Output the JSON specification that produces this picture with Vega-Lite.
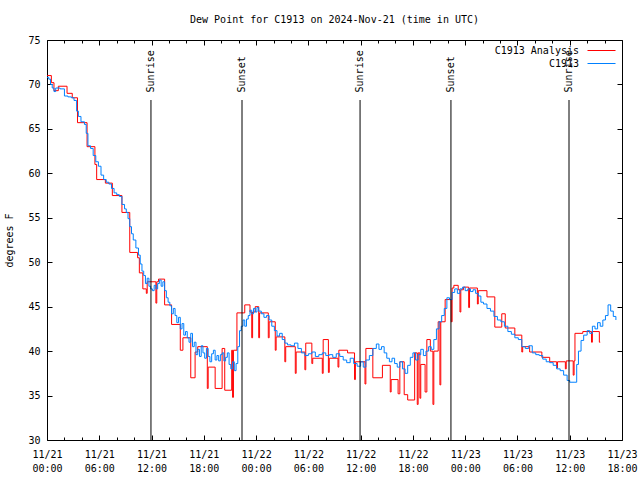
{
  "$schema": "https://vega.github.io/schema/vega-lite/v6.json",
  "width": 575,
  "height": 400,
  "autosize": {"type": "none"},
  "padding": {"left": 47, "top": 40, "right": 18, "bottom": 40},
  "background": "white",
  "title": {"text": "Dew Point for C1913 on 2024-Nov-21 (time in UTC)", "font": "DejaVu Sans Mono", "fontSize": 10, "fontWeight": "normal", "color": "black", "offset": 10},
  "config": {
    "view": {"stroke": "black", "strokeWidth": 1},
    "font": "DejaVu Sans Mono",
    "axis": {"domain": false, "grid": false, "tickColor": "black", "tickWidth": 1, "labelFont": "DejaVu Sans Mono", "labelFontSize": 10, "labelColor": "black", "titleFont": "DejaVu Sans Mono", "titleFontSize": 10, "titleFontWeight": "normal", "titleColor": "black"},
    "legend": {"orient": "top-right", "offset": 4, "padding": 0, "rowPadding": 1, "title": null, "labelFont": "DejaVu Sans Mono", "labelFontSize": 10, "labelColor": "black", "symbolType": "M-1,0H3.67", "symbolStrokeWidth": 1, "symbolSize": 144, "labelAlign": "right", "labelOffset": -21}
  },
  "datasets": {
    "analysis": [
      {"t": "2024-11-21T00:00:00Z", "v": 71.0}, {"t": "2024-11-21T00:30:00Z", "v": 70.2}, {"t": "2024-11-21T00:48:00Z", "v": 69.3}, {"t": "2024-11-21T01:18:00Z", "v": 69.8},
      {"t": "2024-11-21T02:18:00Z", "v": 69.0}, {"t": "2024-11-21T02:54:00Z", "v": 68.5}, {"t": "2024-11-21T03:30:00Z", "v": 65.7}, {"t": "2024-11-21T04:36:00Z", "v": 63.0},
      {"t": "2024-11-21T05:30:00Z", "v": 61.0}, {"t": "2024-11-21T05:42:00Z", "v": 59.3}, {"t": "2024-11-21T06:42:00Z", "v": 58.9}, {"t": "2024-11-21T07:30:00Z", "v": 57.5},
      {"t": "2024-11-21T08:36:00Z", "v": 55.6}, {"t": "2024-11-21T09:30:00Z", "v": 51.1}, {"t": "2024-11-21T10:24:00Z", "v": 50.5}, {"t": "2024-11-21T10:36:00Z", "v": 48.8},
      {"t": "2024-11-21T11:00:00Z", "v": 47.0}, {"t": "2024-11-21T11:24:00Z", "v": 46.5}, {"t": "2024-11-21T11:30:00Z", "v": 47.8}, {"t": "2024-11-21T12:30:00Z", "v": 45.4},
      {"t": "2024-11-21T12:36:00Z", "v": 47.8}, {"t": "2024-11-21T12:48:00Z", "v": 48.1}, {"t": "2024-11-21T13:30:00Z", "v": 45.2}, {"t": "2024-11-21T14:18:00Z", "v": 43.0},
      {"t": "2024-11-21T15:18:00Z", "v": 40.1}, {"t": "2024-11-21T15:36:00Z", "v": 41.5}, {"t": "2024-11-21T16:30:00Z", "v": 37.0}, {"t": "2024-11-21T17:00:00Z", "v": 39.9},
      {"t": "2024-11-21T17:18:00Z", "v": 40.5}, {"t": "2024-11-21T18:24:00Z", "v": 35.8}, {"t": "2024-11-21T18:30:00Z", "v": 38.2}, {"t": "2024-11-21T19:18:00Z", "v": 35.8},
      {"t": "2024-11-21T20:06:00Z", "v": 40.3}, {"t": "2024-11-21T20:24:00Z", "v": 35.6}, {"t": "2024-11-21T21:12:00Z", "v": 40.1}, {"t": "2024-11-21T21:18:00Z", "v": 34.8},
      {"t": "2024-11-21T21:24:00Z", "v": 40.1}, {"t": "2024-11-21T21:48:00Z", "v": 44.3}, {"t": "2024-11-21T22:42:00Z", "v": 45.2}, {"t": "2024-11-21T23:18:00Z", "v": 44.4},
      {"t": "2024-11-21T23:30:00Z", "v": 41.5}, {"t": "2024-11-21T23:36:00Z", "v": 44.4}, {"t": "2024-11-21T23:54:00Z", "v": 45.0}, {"t": "2024-11-22T00:18:00Z", "v": 41.5},
      {"t": "2024-11-22T00:24:00Z", "v": 44.3}, {"t": "2024-11-22T01:24:00Z", "v": 41.5}, {"t": "2024-11-22T01:30:00Z", "v": 43.3}, {"t": "2024-11-22T02:12:00Z", "v": 40.1},
      {"t": "2024-11-22T02:18:00Z", "v": 41.6}, {"t": "2024-11-22T03:18:00Z", "v": 38.8}, {"t": "2024-11-22T03:24:00Z", "v": 40.5}, {"t": "2024-11-22T04:30:00Z", "v": 37.5},
      {"t": "2024-11-22T04:36:00Z", "v": 39.9}, {"t": "2024-11-22T05:36:00Z", "v": 37.9}, {"t": "2024-11-22T05:42:00Z", "v": 40.9}, {"t": "2024-11-22T06:24:00Z", "v": 38.6},
      {"t": "2024-11-22T06:30:00Z", "v": 39.2}, {"t": "2024-11-22T07:36:00Z", "v": 37.5}, {"t": "2024-11-22T07:42:00Z", "v": 41.3}, {"t": "2024-11-22T08:18:00Z", "v": 37.6},
      {"t": "2024-11-22T08:24:00Z", "v": 39.2}, {"t": "2024-11-22T09:24:00Z", "v": 38.2}, {"t": "2024-11-22T09:30:00Z", "v": 40.1}, {"t": "2024-11-22T10:30:00Z", "v": 39.8},
      {"t": "2024-11-22T11:18:00Z", "v": 36.8}, {"t": "2024-11-22T11:24:00Z", "v": 38.8}, {"t": "2024-11-22T12:30:00Z", "v": 36.3}, {"t": "2024-11-22T12:36:00Z", "v": 40.3},
      {"t": "2024-11-22T13:24:00Z", "v": 37.0}, {"t": "2024-11-22T14:30:00Z", "v": 38.4}, {"t": "2024-11-22T15:24:00Z", "v": 35.4}, {"t": "2024-11-22T15:30:00Z", "v": 36.8},
      {"t": "2024-11-22T16:18:00Z", "v": 35.2}, {"t": "2024-11-22T16:30:00Z", "v": 38.8}, {"t": "2024-11-22T17:00:00Z", "v": 35.1}, {"t": "2024-11-22T17:24:00Z", "v": 34.5},
      {"t": "2024-11-22T18:12:00Z", "v": 39.8}, {"t": "2024-11-22T18:30:00Z", "v": 34.0}, {"t": "2024-11-22T18:36:00Z", "v": 39.8}, {"t": "2024-11-22T18:48:00Z", "v": 34.7},
      {"t": "2024-11-22T18:54:00Z", "v": 38.5}, {"t": "2024-11-22T19:24:00Z", "v": 35.4}, {"t": "2024-11-22T19:36:00Z", "v": 41.3}, {"t": "2024-11-22T20:00:00Z", "v": 40.0},
      {"t": "2024-11-22T20:18:00Z", "v": 34.0}, {"t": "2024-11-22T20:24:00Z", "v": 40.0}, {"t": "2024-11-22T20:54:00Z", "v": 43.3}, {"t": "2024-11-22T21:06:00Z", "v": 36.2},
      {"t": "2024-11-22T21:12:00Z", "v": 43.3}, {"t": "2024-11-22T21:42:00Z", "v": 45.8}, {"t": "2024-11-22T22:24:00Z", "v": 43.3}, {"t": "2024-11-22T22:30:00Z", "v": 47.1},
      {"t": "2024-11-22T22:42:00Z", "v": 47.4}, {"t": "2024-11-22T23:12:00Z", "v": 46.9}, {"t": "2024-11-22T23:24:00Z", "v": 44.4}, {"t": "2024-11-22T23:30:00Z", "v": 46.9},
      {"t": "2024-11-22T23:48:00Z", "v": 47.2}, {"t": "2024-11-23T00:24:00Z", "v": 44.9}, {"t": "2024-11-23T00:30:00Z", "v": 47.1}, {"t": "2024-11-23T01:24:00Z", "v": 45.3},
      {"t": "2024-11-23T01:30:00Z", "v": 46.8}, {"t": "2024-11-23T02:30:00Z", "v": 46.1}, {"t": "2024-11-23T03:24:00Z", "v": 42.7}, {"t": "2024-11-23T04:12:00Z", "v": 44.2},
      {"t": "2024-11-23T04:36:00Z", "v": 42.6}, {"t": "2024-11-23T05:42:00Z", "v": 41.8}, {"t": "2024-11-23T06:30:00Z", "v": 39.9}, {"t": "2024-11-23T06:36:00Z", "v": 40.5},
      {"t": "2024-11-23T07:24:00Z", "v": 39.9}, {"t": "2024-11-23T08:48:00Z", "v": 39.3}, {"t": "2024-11-23T09:42:00Z", "v": 38.8}, {"t": "2024-11-23T10:30:00Z", "v": 38.1},
      {"t": "2024-11-23T10:36:00Z", "v": 38.8}, {"t": "2024-11-23T11:30:00Z", "v": 38.0}, {"t": "2024-11-23T11:36:00Z", "v": 38.9}, {"t": "2024-11-23T12:24:00Z", "v": 37.3},
      {"t": "2024-11-23T12:30:00Z", "v": 38.9}, {"t": "2024-11-23T12:36:00Z", "v": 42.0}, {"t": "2024-11-23T13:30:00Z", "v": 42.2}, {"t": "2024-11-23T14:30:00Z", "v": 41.0},
      {"t": "2024-11-23T14:36:00Z", "v": 42.2}, {"t": "2024-11-23T15:24:00Z", "v": 41.0}, {"t": "2024-11-23T15:30:00Z", "v": 41.0}
    ],
    "obs": [
      {"t": "2024-11-21T00:00:00Z", "v": 70.8}, {"t": "2024-11-21T00:12:00Z", "v": 70.6}, {"t": "2024-11-21T00:24:00Z", "v": 70.0}, {"t": "2024-11-21T00:36:00Z", "v": 69.6},
      {"t": "2024-11-21T00:48:00Z", "v": 69.2}, {"t": "2024-11-21T01:00:00Z", "v": 69.6}, {"t": "2024-11-21T01:30:00Z", "v": 69.5}, {"t": "2024-11-21T02:00:00Z", "v": 68.7},
      {"t": "2024-11-21T02:24:00Z", "v": 68.6}, {"t": "2024-11-21T02:48:00Z", "v": 68.5}, {"t": "2024-11-21T03:06:00Z", "v": 68.2}, {"t": "2024-11-21T03:24:00Z", "v": 67.0},
      {"t": "2024-11-21T03:36:00Z", "v": 66.4}, {"t": "2024-11-21T03:54:00Z", "v": 65.8}, {"t": "2024-11-21T04:18:00Z", "v": 65.5}, {"t": "2024-11-21T04:30:00Z", "v": 64.5},
      {"t": "2024-11-21T04:42:00Z", "v": 63.1}, {"t": "2024-11-21T05:00:00Z", "v": 62.8}, {"t": "2024-11-21T05:18:00Z", "v": 62.0}, {"t": "2024-11-21T05:36:00Z", "v": 61.3},
      {"t": "2024-11-21T05:54:00Z", "v": 60.8}, {"t": "2024-11-21T06:12:00Z", "v": 59.8}, {"t": "2024-11-21T06:30:00Z", "v": 59.3}, {"t": "2024-11-21T06:48:00Z", "v": 59.0},
      {"t": "2024-11-21T07:06:00Z", "v": 58.8}, {"t": "2024-11-21T07:24:00Z", "v": 58.3}, {"t": "2024-11-21T07:42:00Z", "v": 57.8}, {"t": "2024-11-21T08:00:00Z", "v": 57.6},
      {"t": "2024-11-21T08:18:00Z", "v": 57.4}, {"t": "2024-11-21T08:36:00Z", "v": 56.5}, {"t": "2024-11-21T08:54:00Z", "v": 56.0}, {"t": "2024-11-21T09:06:00Z", "v": 55.6},
      {"t": "2024-11-21T09:18:00Z", "v": 54.9}, {"t": "2024-11-21T09:30:00Z", "v": 54.0}, {"t": "2024-11-21T09:42:00Z", "v": 53.2}, {"t": "2024-11-21T09:54:00Z", "v": 52.5},
      {"t": "2024-11-21T10:12:00Z", "v": 51.6}, {"t": "2024-11-21T10:30:00Z", "v": 50.8}, {"t": "2024-11-21T10:42:00Z", "v": 49.8}, {"t": "2024-11-21T10:54:00Z", "v": 49.0},
      {"t": "2024-11-21T11:06:00Z", "v": 48.5}, {"t": "2024-11-21T11:18:00Z", "v": 47.6}, {"t": "2024-11-21T11:30:00Z", "v": 48.2}, {"t": "2024-11-21T11:42:00Z", "v": 47.3},
      {"t": "2024-11-21T11:54:00Z", "v": 47.0}, {"t": "2024-11-21T12:06:00Z", "v": 46.8}, {"t": "2024-11-21T12:18:00Z", "v": 47.4}, {"t": "2024-11-21T12:30:00Z", "v": 47.0},
      {"t": "2024-11-21T12:42:00Z", "v": 47.6}, {"t": "2024-11-21T12:54:00Z", "v": 48.0}, {"t": "2024-11-21T13:06:00Z", "v": 47.3}, {"t": "2024-11-21T13:18:00Z", "v": 47.8},
      {"t": "2024-11-21T13:30:00Z", "v": 46.8}, {"t": "2024-11-21T13:42:00Z", "v": 46.0}, {"t": "2024-11-21T13:54:00Z", "v": 45.5}, {"t": "2024-11-21T14:06:00Z", "v": 45.1},
      {"t": "2024-11-21T14:18:00Z", "v": 44.2}, {"t": "2024-11-21T14:30:00Z", "v": 44.8}, {"t": "2024-11-21T14:42:00Z", "v": 44.0}, {"t": "2024-11-21T14:54:00Z", "v": 43.2},
      {"t": "2024-11-21T15:06:00Z", "v": 43.8}, {"t": "2024-11-21T15:18:00Z", "v": 42.5}, {"t": "2024-11-21T15:30:00Z", "v": 43.1}, {"t": "2024-11-21T15:42:00Z", "v": 41.8},
      {"t": "2024-11-21T15:54:00Z", "v": 42.2}, {"t": "2024-11-21T16:06:00Z", "v": 41.5}, {"t": "2024-11-21T16:18:00Z", "v": 41.0}, {"t": "2024-11-21T16:30:00Z", "v": 42.0},
      {"t": "2024-11-21T16:42:00Z", "v": 40.5}, {"t": "2024-11-21T16:54:00Z", "v": 41.0}, {"t": "2024-11-21T17:06:00Z", "v": 39.6}, {"t": "2024-11-21T17:18:00Z", "v": 40.2},
      {"t": "2024-11-21T17:30:00Z", "v": 39.4}, {"t": "2024-11-21T17:42:00Z", "v": 40.6}, {"t": "2024-11-21T17:54:00Z", "v": 39.8}, {"t": "2024-11-21T18:06:00Z", "v": 39.2},
      {"t": "2024-11-21T18:18:00Z", "v": 40.3}, {"t": "2024-11-21T18:30:00Z", "v": 39.4}, {"t": "2024-11-21T18:42:00Z", "v": 38.8}, {"t": "2024-11-21T18:54:00Z", "v": 39.7},
      {"t": "2024-11-21T19:06:00Z", "v": 40.1}, {"t": "2024-11-21T19:18:00Z", "v": 39.0}, {"t": "2024-11-21T19:30:00Z", "v": 39.5}, {"t": "2024-11-21T19:42:00Z", "v": 38.9},
      {"t": "2024-11-21T19:54:00Z", "v": 39.6}, {"t": "2024-11-21T20:06:00Z", "v": 39.8}, {"t": "2024-11-21T20:18:00Z", "v": 38.9}, {"t": "2024-11-21T20:30:00Z", "v": 39.3},
      {"t": "2024-11-21T20:42:00Z", "v": 39.8}, {"t": "2024-11-21T20:54:00Z", "v": 38.5}, {"t": "2024-11-21T21:06:00Z", "v": 38.0}, {"t": "2024-11-21T21:18:00Z", "v": 38.8},
      {"t": "2024-11-21T21:30:00Z", "v": 37.8}, {"t": "2024-11-21T21:42:00Z", "v": 38.6}, {"t": "2024-11-21T21:54:00Z", "v": 40.5}, {"t": "2024-11-21T22:06:00Z", "v": 42.3},
      {"t": "2024-11-21T22:18:00Z", "v": 42.8}, {"t": "2024-11-21T22:30:00Z", "v": 43.5}, {"t": "2024-11-21T22:42:00Z", "v": 42.8}, {"t": "2024-11-21T22:54:00Z", "v": 43.6},
      {"t": "2024-11-21T23:06:00Z", "v": 44.0}, {"t": "2024-11-21T23:18:00Z", "v": 44.6}, {"t": "2024-11-21T23:30:00Z", "v": 44.2}, {"t": "2024-11-21T23:42:00Z", "v": 44.8},
      {"t": "2024-11-21T23:54:00Z", "v": 44.4}, {"t": "2024-11-22T00:06:00Z", "v": 44.9}, {"t": "2024-11-22T00:18:00Z", "v": 44.5}, {"t": "2024-11-22T00:36:00Z", "v": 44.2},
      {"t": "2024-11-22T00:54:00Z", "v": 43.8}, {"t": "2024-11-22T01:12:00Z", "v": 44.0}, {"t": "2024-11-22T01:30:00Z", "v": 43.5}, {"t": "2024-11-22T01:48:00Z", "v": 42.8},
      {"t": "2024-11-22T02:06:00Z", "v": 42.3}, {"t": "2024-11-22T02:24:00Z", "v": 41.7}, {"t": "2024-11-22T02:42:00Z", "v": 42.0}, {"t": "2024-11-22T03:00:00Z", "v": 41.3},
      {"t": "2024-11-22T03:18:00Z", "v": 40.9}, {"t": "2024-11-22T03:36:00Z", "v": 40.7}, {"t": "2024-11-22T04:00:00Z", "v": 40.6}, {"t": "2024-11-22T04:24:00Z", "v": 40.9},
      {"t": "2024-11-22T04:48:00Z", "v": 40.3}, {"t": "2024-11-22T05:12:00Z", "v": 39.8}, {"t": "2024-11-22T05:36:00Z", "v": 39.5}, {"t": "2024-11-22T06:00:00Z", "v": 39.7},
      {"t": "2024-11-22T06:24:00Z", "v": 39.9}, {"t": "2024-11-22T06:48:00Z", "v": 39.4}, {"t": "2024-11-22T07:12:00Z", "v": 39.6}, {"t": "2024-11-22T07:36:00Z", "v": 39.8},
      {"t": "2024-11-22T08:00:00Z", "v": 39.5}, {"t": "2024-11-22T08:24:00Z", "v": 39.6}, {"t": "2024-11-22T08:48:00Z", "v": 39.3}, {"t": "2024-11-22T09:12:00Z", "v": 39.7},
      {"t": "2024-11-22T09:36:00Z", "v": 39.4}, {"t": "2024-11-22T10:00:00Z", "v": 39.0}, {"t": "2024-11-22T10:24:00Z", "v": 38.7}, {"t": "2024-11-22T10:48:00Z", "v": 39.2},
      {"t": "2024-11-22T11:12:00Z", "v": 38.6}, {"t": "2024-11-22T11:36:00Z", "v": 38.3}, {"t": "2024-11-22T12:00:00Z", "v": 38.8}, {"t": "2024-11-22T12:18:00Z", "v": 38.2},
      {"t": "2024-11-22T12:36:00Z", "v": 39.0}, {"t": "2024-11-22T13:00:00Z", "v": 39.5}, {"t": "2024-11-22T13:24:00Z", "v": 40.3}, {"t": "2024-11-22T13:48:00Z", "v": 40.8},
      {"t": "2024-11-22T14:06:00Z", "v": 40.2}, {"t": "2024-11-22T14:24:00Z", "v": 40.5}, {"t": "2024-11-22T14:42:00Z", "v": 39.8}, {"t": "2024-11-22T15:00:00Z", "v": 39.2},
      {"t": "2024-11-22T15:18:00Z", "v": 38.8}, {"t": "2024-11-22T15:36:00Z", "v": 39.2}, {"t": "2024-11-22T15:54:00Z", "v": 38.6}, {"t": "2024-11-22T16:12:00Z", "v": 38.2},
      {"t": "2024-11-22T16:30:00Z", "v": 38.8}, {"t": "2024-11-22T16:48:00Z", "v": 38.0}, {"t": "2024-11-22T17:06:00Z", "v": 37.5}, {"t": "2024-11-22T17:24:00Z", "v": 38.4},
      {"t": "2024-11-22T17:42:00Z", "v": 39.3}, {"t": "2024-11-22T18:00:00Z", "v": 39.8}, {"t": "2024-11-22T18:18:00Z", "v": 39.0}, {"t": "2024-11-22T18:36:00Z", "v": 39.6},
      {"t": "2024-11-22T18:54:00Z", "v": 40.2}, {"t": "2024-11-22T19:12:00Z", "v": 39.5}, {"t": "2024-11-22T19:30:00Z", "v": 40.0}, {"t": "2024-11-22T19:48:00Z", "v": 40.5},
      {"t": "2024-11-22T20:06:00Z", "v": 40.2}, {"t": "2024-11-22T20:24:00Z", "v": 41.3}, {"t": "2024-11-22T20:42:00Z", "v": 42.5}, {"t": "2024-11-22T21:00:00Z", "v": 43.3},
      {"t": "2024-11-22T21:18:00Z", "v": 44.0}, {"t": "2024-11-22T21:36:00Z", "v": 44.8}, {"t": "2024-11-22T21:54:00Z", "v": 46.0}, {"t": "2024-11-22T22:12:00Z", "v": 45.8},
      {"t": "2024-11-22T22:30:00Z", "v": 46.6}, {"t": "2024-11-22T22:48:00Z", "v": 47.0}, {"t": "2024-11-22T23:06:00Z", "v": 46.5}, {"t": "2024-11-22T23:24:00Z", "v": 47.0},
      {"t": "2024-11-22T23:42:00Z", "v": 47.2}, {"t": "2024-11-23T00:00:00Z", "v": 46.8}, {"t": "2024-11-23T00:18:00Z", "v": 47.0}, {"t": "2024-11-23T00:36:00Z", "v": 46.7},
      {"t": "2024-11-23T00:54:00Z", "v": 46.9}, {"t": "2024-11-23T01:12:00Z", "v": 46.5}, {"t": "2024-11-23T01:30:00Z", "v": 46.2}, {"t": "2024-11-23T01:48:00Z", "v": 45.5},
      {"t": "2024-11-23T02:06:00Z", "v": 45.3}, {"t": "2024-11-23T02:30:00Z", "v": 44.8}, {"t": "2024-11-23T02:54:00Z", "v": 44.5}, {"t": "2024-11-23T03:18:00Z", "v": 43.9},
      {"t": "2024-11-23T03:42:00Z", "v": 43.5}, {"t": "2024-11-23T04:06:00Z", "v": 43.3}, {"t": "2024-11-23T04:30:00Z", "v": 42.8}, {"t": "2024-11-23T04:54:00Z", "v": 42.2},
      {"t": "2024-11-23T05:18:00Z", "v": 41.9}, {"t": "2024-11-23T05:42:00Z", "v": 41.5}, {"t": "2024-11-23T06:06:00Z", "v": 41.3}, {"t": "2024-11-23T06:30:00Z", "v": 40.5},
      {"t": "2024-11-23T06:54:00Z", "v": 40.3}, {"t": "2024-11-23T07:18:00Z", "v": 40.6}, {"t": "2024-11-23T07:42:00Z", "v": 39.8}, {"t": "2024-11-23T08:06:00Z", "v": 39.6},
      {"t": "2024-11-23T08:30:00Z", "v": 39.5}, {"t": "2024-11-23T08:54:00Z", "v": 39.1}, {"t": "2024-11-23T09:18:00Z", "v": 38.8}, {"t": "2024-11-23T09:42:00Z", "v": 38.7},
      {"t": "2024-11-23T10:06:00Z", "v": 38.4}, {"t": "2024-11-23T10:30:00Z", "v": 38.0}, {"t": "2024-11-23T10:54:00Z", "v": 37.8}, {"t": "2024-11-23T11:18:00Z", "v": 37.3},
      {"t": "2024-11-23T11:42:00Z", "v": 36.7}, {"t": "2024-11-23T12:00:00Z", "v": 36.5}, {"t": "2024-11-23T12:36:00Z", "v": 36.5}, {"t": "2024-11-23T12:48:00Z", "v": 38.5},
      {"t": "2024-11-23T13:00:00Z", "v": 40.0}, {"t": "2024-11-23T13:18:00Z", "v": 41.2}, {"t": "2024-11-23T13:36:00Z", "v": 41.8}, {"t": "2024-11-23T14:00:00Z", "v": 42.3},
      {"t": "2024-11-23T14:18:00Z", "v": 42.0}, {"t": "2024-11-23T14:36:00Z", "v": 42.8}, {"t": "2024-11-23T14:54:00Z", "v": 42.5}, {"t": "2024-11-23T15:12:00Z", "v": 43.2},
      {"t": "2024-11-23T15:30:00Z", "v": 42.8}, {"t": "2024-11-23T15:48:00Z", "v": 43.5}, {"t": "2024-11-23T16:06:00Z", "v": 44.0}, {"t": "2024-11-23T16:24:00Z", "v": 45.2},
      {"t": "2024-11-23T16:42:00Z", "v": 44.5}, {"t": "2024-11-23T17:00:00Z", "v": 43.9}, {"t": "2024-11-23T17:18:00Z", "v": 43.5}
    ],
    "events": [
      {"t": "2024-11-21T11:56:00Z", "label": "Sunrise"},
      {"t": "2024-11-21T22:23:00Z", "label": "Sunset"},
      {"t": "2024-11-22T11:56:00Z", "label": "Sunrise"},
      {"t": "2024-11-22T22:22:00Z", "label": "Sunset"},
      {"t": "2024-11-23T11:55:00Z", "label": "Sunrise"}
    ]
  },
  "layer": [
    {
      "data": {"name": "analysis"},
      "mark": {"type": "line", "interpolate": "step-after", "strokeWidth": 1},
      "encoding": {
        "x": {"field": "t", "type": "temporal",
              "scale": {"type": "utc", "domain": [{"year": 2024, "month": 11, "date": 21, "hours": 0, "utc": true}, {"year": 2024, "month": 11, "date": 23, "hours": 18, "utc": true}]},
              "axis": {"orient": "bottom", "title": null, "tickCount": 12, "tickSize": -5, "labelPadding": 14, "labelExpr": "utcFormat(datum.value, '%m/%d')", "labelOverlap": false, "labelFlush": false}},
        "y": {"field": "v", "type": "quantitative", "scale": {"domain": [30, 75], "nice": false, "zero": false},
              "axis": {"orient": "left", "title": "degrees F", "values": [30, 35, 40, 45, 50, 55, 60, 65, 70, 75], "tickSize": -5, "labelPadding": 12, "titlePadding": 13}},
        "color": {"datum": "C1913 Analysis", "type": "nominal", "scale": {"domain": ["C1913 Analysis", "C1913"], "range": ["#ff0000", "#0080ff"]}}
      }
    },
    {
      "data": {"name": "obs"},
      "mark": {"type": "line", "interpolate": "step-after", "strokeWidth": 1},
      "encoding": {
        "x": {"field": "t", "type": "temporal", "axis": {"orient": "bottom", "title": null, "tickCount": 12, "tickSize": 0, "labelPadding": 23, "labelExpr": "utcFormat(datum.value, '%H:%M')", "labelOverlap": false, "labelFlush": false}},
        "y": {"field": "v", "type": "quantitative", "axis": {"orient": "right", "title": null, "labels": false, "values": [30, 35, 40, 45, 50, 55, 60, 65, 70, 75], "tickSize": -5}},
        "color": {"datum": "C1913", "type": "nominal"}
      }
    },
    {
      "data": {"name": "events"},
      "mark": {"type": "rule", "color": "black", "strokeWidth": 1},
      "encoding": {
        "x": {"field": "t", "type": "temporal", "axis": {"orient": "top", "title": null, "labels": false, "tickCount": 12, "tickSize": -5}},
        "y": {"datum": 68.25, "type": "quantitative", "axis": null},
        "y2": {"datum": 30}
      }
    },
    {
      "data": {"name": "events"},
      "mark": {"type": "rule", "color": "black", "strokeWidth": 1, "opacity": 0},
      "encoding": {
        "x": {"field": "t", "type": "temporal", "axis": {"orient": "top", "title": null, "labels": false, "tickSize": -3,
              "values": [
                {"year": 2024, "month": 11, "date": 21, "hours": 2, "utc": true}, {"year": 2024, "month": 11, "date": 21, "hours": 4, "utc": true},
                {"year": 2024, "month": 11, "date": 21, "hours": 8, "utc": true}, {"year": 2024, "month": 11, "date": 21, "hours": 10, "utc": true},
                {"year": 2024, "month": 11, "date": 21, "hours": 14, "utc": true}, {"year": 2024, "month": 11, "date": 21, "hours": 16, "utc": true},
                {"year": 2024, "month": 11, "date": 21, "hours": 20, "utc": true}, {"year": 2024, "month": 11, "date": 21, "hours": 22, "utc": true},
                {"year": 2024, "month": 11, "date": 22, "hours": 2, "utc": true}, {"year": 2024, "month": 11, "date": 22, "hours": 4, "utc": true},
                {"year": 2024, "month": 11, "date": 22, "hours": 8, "utc": true}, {"year": 2024, "month": 11, "date": 22, "hours": 10, "utc": true},
                {"year": 2024, "month": 11, "date": 22, "hours": 14, "utc": true}, {"year": 2024, "month": 11, "date": 22, "hours": 16, "utc": true},
                {"year": 2024, "month": 11, "date": 22, "hours": 20, "utc": true}, {"year": 2024, "month": 11, "date": 22, "hours": 22, "utc": true},
                {"year": 2024, "month": 11, "date": 23, "hours": 2, "utc": true}, {"year": 2024, "month": 11, "date": 23, "hours": 4, "utc": true},
                {"year": 2024, "month": 11, "date": 23, "hours": 8, "utc": true}, {"year": 2024, "month": 11, "date": 23, "hours": 10, "utc": true},
                {"year": 2024, "month": 11, "date": 23, "hours": 14, "utc": true}, {"year": 2024, "month": 11, "date": 23, "hours": 16, "utc": true}
              ]}},
        "y": {"datum": 68.25, "type": "quantitative", "axis": null},
        "y2": {"datum": 30}
      }
    },
    {
      "data": {"name": "events"},
      "mark": {"type": "text", "angle": 270, "align": "left", "baseline": "middle", "font": "DejaVu Sans Mono", "fontSize": 10, "color": "black"},
      "encoding": {
        "x": {"field": "t", "type": "temporal", "axis": {"orient": "bottom", "title": null, "labels": false, "tickSize": -3,
              "values": [
                {"year": 2024, "month": 11, "date": 21, "hours": 2, "utc": true}, {"year": 2024, "month": 11, "date": 21, "hours": 4, "utc": true},
                {"year": 2024, "month": 11, "date": 21, "hours": 8, "utc": true}, {"year": 2024, "month": 11, "date": 21, "hours": 10, "utc": true},
                {"year": 2024, "month": 11, "date": 21, "hours": 14, "utc": true}, {"year": 2024, "month": 11, "date": 21, "hours": 16, "utc": true},
                {"year": 2024, "month": 11, "date": 21, "hours": 20, "utc": true}, {"year": 2024, "month": 11, "date": 21, "hours": 22, "utc": true},
                {"year": 2024, "month": 11, "date": 22, "hours": 2, "utc": true}, {"year": 2024, "month": 11, "date": 22, "hours": 4, "utc": true},
                {"year": 2024, "month": 11, "date": 22, "hours": 8, "utc": true}, {"year": 2024, "month": 11, "date": 22, "hours": 10, "utc": true},
                {"year": 2024, "month": 11, "date": 22, "hours": 14, "utc": true}, {"year": 2024, "month": 11, "date": 22, "hours": 16, "utc": true},
                {"year": 2024, "month": 11, "date": 22, "hours": 20, "utc": true}, {"year": 2024, "month": 11, "date": 22, "hours": 22, "utc": true},
                {"year": 2024, "month": 11, "date": 23, "hours": 2, "utc": true}, {"year": 2024, "month": 11, "date": 23, "hours": 4, "utc": true},
                {"year": 2024, "month": 11, "date": 23, "hours": 8, "utc": true}, {"year": 2024, "month": 11, "date": 23, "hours": 10, "utc": true},
                {"year": 2024, "month": 11, "date": 23, "hours": 14, "utc": true}, {"year": 2024, "month": 11, "date": 23, "hours": 16, "utc": true}
              ]}},
        "y": {"datum": 69.1, "type": "quantitative", "axis": null},
        "text": {"field": "label"}
      }
    }
  ],
  "resolve": {"axis": {"x": "independent", "y": "independent"}}
}
